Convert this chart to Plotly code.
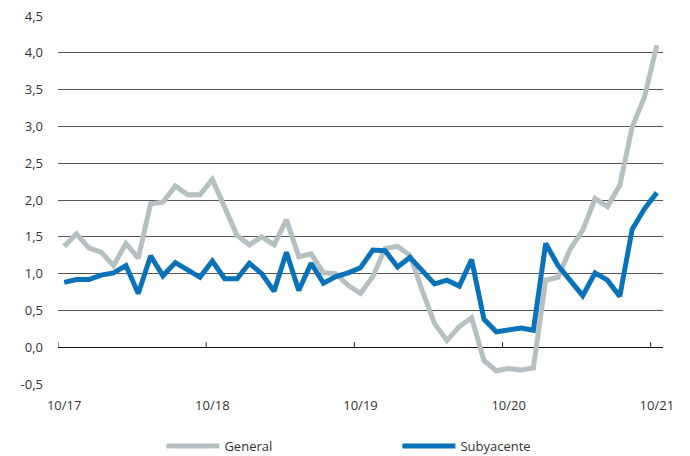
import plotly.graph_objects as go

months = ["10/17","11/17","12/17","01/18","02/18","03/18","04/18","05/18","06/18","07/18","08/18","09/18",
          "10/18","11/18","12/18","01/19","02/19","03/19","04/19","05/19","06/19","07/19","08/19","09/19",
          "10/19","11/19","12/19","01/20","02/20","03/20","04/20","05/20","06/20","07/20","08/20","09/20",
          "10/20","11/20","12/20","01/21","02/21","03/21","04/21","05/21","06/21","07/21","08/21","09/21",
          "10/21"]

general = [1.37, 1.54, 1.35, 1.29, 1.11, 1.41, 1.21, 1.95, 1.97, 2.19, 2.07, 2.07,
           2.28, 1.88, 1.52, 1.39, 1.50, 1.39, 1.73, 1.23, 1.27, 1.01, 1.00, 0.84,
           0.73, 0.96, 1.34, 1.37, 1.25, 0.77, 0.32, 0.09, 0.28, 0.40, -0.18, -0.32,
           -0.29, -0.31, -0.28, 0.91, 0.95, 1.34, 1.59, 2.02, 1.91, 2.20, 2.99, 3.40,
           4.10]

subyacente = [0.88, 0.92, 0.92, 0.98, 1.01, 1.11, 0.73, 1.24, 0.97, 1.15, 1.05, 0.95,
              1.17, 0.93, 0.93, 1.14, 1.00, 0.76, 1.29, 0.77, 1.14, 0.87, 0.96, 1.01,
              1.08, 1.32, 1.31, 1.09, 1.22, 1.04, 0.86, 0.91, 0.83, 1.19, 0.38, 0.21,
              0.23, 0.26, 0.23, 1.41, 1.11, 0.91, 0.70, 1.01, 0.91, 0.69, 1.60, 1.88,
              2.10]

x_labels = ["10/17", "10/18", "10/19", "10/20", "10/21"]
y_ticks = [-0.5, 0.0, 0.5, 1.0, 1.5, 2.0, 2.5, 3.0, 3.5, 4.0, 4.5]

xpos = [i + 0.5 for i in range(len(months))]
label_pos = [xpos[months.index(l)] for l in x_labels]
tick_pos = [months.index(l) for l in x_labels]

GRAY = "#B6BFC2"
BLUE = "#0A72B8"
FONT = "Open Sans"

fig = go.Figure()
fig.add_trace(go.Scatter(x=xpos, y=general, mode="lines", name="General",
                         line=dict(color=GRAY, width=5, shape="linear")))
fig.add_trace(go.Scatter(x=xpos, y=subyacente, mode="lines", name="Subyacente",
                         line=dict(color=BLUE, width=5, shape="linear")))

for t in tick_pos:
    fig.add_shape(type="line", xref="x", yref="y", x0=t, x1=t, y0=0, y1=0.07,
                  line=dict(color="#222222", width=1))

fig.update_layout(
    width=690, height=456,
    margin=dict(l=58, r=27, t=16, b=72, autoexpand=False),
    plot_bgcolor="white", paper_bgcolor="white",
    font=dict(family=FONT, size=13, color="#333333"),
    showlegend=True,
    legend=dict(orientation="h", x=0.561, xanchor="center", xref="paper",
                y=0.022, yanchor="middle", yref="container",
                itemwidth=53, entrywidth=168, font=dict(size=13, color="#333333")),
    xaxis=dict(range=[0, len(months)], tickvals=label_pos, ticktext=x_labels,
               showgrid=False, zeroline=False, showline=False, ticks="",
               ticklabelstandoff=12, automargin=False,
               tickfont=dict(size=13, color="#333333")),
    yaxis=dict(range=[-0.5, 4.5], tickvals=y_ticks,
               ticktext=[f"{v:.1f}".replace(".", ",") for v in y_ticks],
               showgrid=True, gridcolor="#555555", gridwidth=1,
               zeroline=True, zerolinecolor="#111111", zerolinewidth=1,
               showline=False, ticks="", ticklabelstandoff=14, automargin=False,
               tickfont=dict(size=13, color="#333333")),
)

fig.write_html("out.html")
